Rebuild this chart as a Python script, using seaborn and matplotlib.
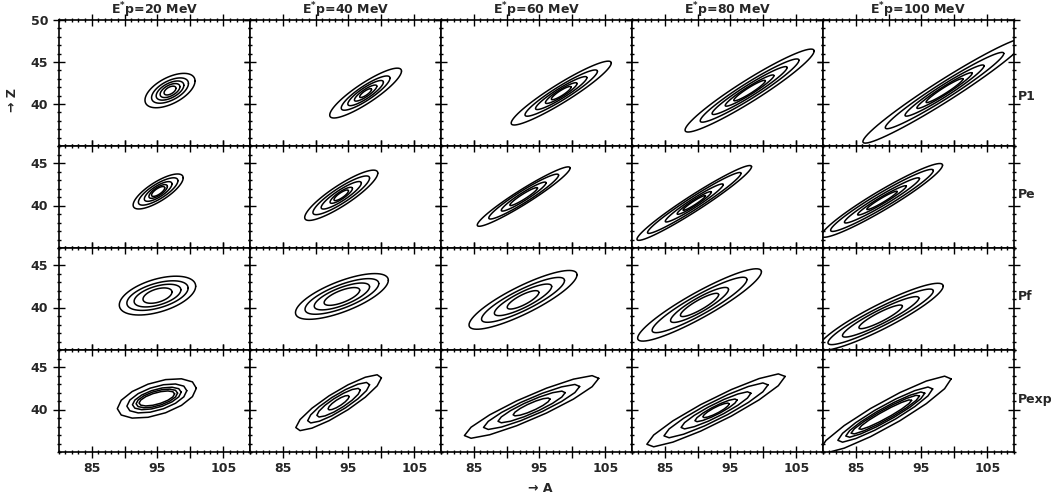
import numpy as np
import pandas as pd
import matplotlib
matplotlib.use("Agg")
import matplotlib.pyplot as plt
from matplotlib.ticker import MultipleLocator
import seaborn as sns

# columns: excitation energy, rows: model
energies = [20, 40, 60, 80, 100]
models = ["P1", "Pe", "Pf", "Pexp"]

# centre of each contour set (A, Z) and slope dZ/dA of the ridge
center_A = [[96.9, 97.6, 98.3, 97.9, 98.5],
            [95.1, 93.9, 92.6, 89.5, 89.0],
            [95.0, 94.0, 92.5, 90.3, 88.8],
            [94.9, 93.5, 93.8, 92.8, 89.5]]
center_Z = [[41.6, 41.3, 41.3, 41.6, 41.6],
            [41.65, 41.2, 41.05, 40.3, 40.6],
            [41.4, 41.3, 40.9, 40.3, 38.9],
            [41.3, 40.8, 40.3, 39.9, 39.4]]
slope = [[0.30, 0.48, 0.47, 0.48, 0.49],
         [0.42, 0.47, 0.475, 0.49, 0.45],
         [0.19, 0.27, 0.36, 0.415, 0.38],
         [0.20, 0.45, 0.33, 0.38, 0.42]]

# half length along A and half thickness along Z of every contour level
half_len = [[[3.8, 2.8, 2.1, 1.5, 0.9], [5.45, 3.7, 2.7, 1.7, 0.9], [7.6, 5.5, 3.9, 2.4, 1.5],
             [9.8, 7.5, 5.7, 3.7, 2.4], [12.4, 9.0, 6.0, 4.2, 2.8]],
            [[3.8, 3.0, 2.1, 1.4, 1.0], [5.55, 4.3, 3.05, 1.7, 1.1], [7.05, 5.3, 3.4, 2.1],
             [8.7, 7.1, 4.4, 2.6, 1.7], [9.2, 7.8, 5.7, 3.7, 2.3]],
            [[5.8, 4.65, 3.55, 2.2], [7.05, 5.6, 4.2, 2.7], [8.2, 6.3, 4.35, 2.4],
             [9.4, 7.2, 4.4, 2.9], [9.5, 8.0, 5.8, 3.3]],
            [[6.0, 4.55, 3.7, 3.15, 2.7], [6.5, 4.7, 3.3, 1.6], [10.2, 7.3, 5.1, 2.8],
             [10.5, 7.9, 5.3, 3.2, 2.0], [10.0, 7.2, 6.0, 5.2, 4.0]]]
half_wid = [[[1.7, 1.25, 0.95, 0.7, 0.45], [1.4, 1.0, 0.75, 0.5, 0.3], [1.3, 0.95, 0.7, 0.5, 0.35],
             [1.5, 1.1, 0.8, 0.55, 0.4], [1.5, 1.1, 0.8, 0.55, 0.4]],
            [[1.3, 1.0, 0.75, 0.55, 0.4], [1.4, 1.05, 0.75, 0.5, 0.35], [1.0, 0.8, 0.55, 0.35],
             [1.1, 0.85, 0.6, 0.4, 0.25], [1.3, 1.0, 0.7, 0.45, 0.3]],
            [[2.0, 1.5, 1.15, 0.8], [1.9, 1.45, 1.1, 0.75], [1.8, 1.35, 1.0, 0.65],
             [1.7, 1.3, 0.95, 0.65], [1.6, 1.2, 0.9, 0.6]],
            [[2.0, 1.45, 1.1, 0.9, 0.7], [1.5, 1.1, 0.8, 0.45], [1.5, 1.1, 0.8, 0.5],
             [1.6, 1.2, 0.85, 0.55, 0.4], [1.7, 1.2, 0.9, 0.7, 0.5]]]

z_top = [50, 47, 47, 47]
x_ticklabels = ["85", "", "95", "", "105"]

sns.set_style("ticks")
plt.rcParams["font.family"] = ["DejaVu Sans"]
plt.rcParams["font.weight"] = "bold"

fig = plt.figure(figsize=(10.51, 5.0), dpi=100)
W_px, H_px = 1051, 500
col_left = [58.7 + 191 * c for c in range(5)]
row_top = [20, 146, 248, 350]
row_h = [126, 102, 102, 102]
# the experimental contours are coarser (binned data)
n_vertices = [73, 73, 73, 15]

for r in range(4):
    theta = np.linspace(0, 2 * np.pi, n_vertices[r])
    for c in range(5):
        ax = fig.add_axes([col_left[c] / W_px, 1 - (row_top[r] + row_h[r]) / H_px,
                           191 / W_px, row_h[r] / H_px])
        for L, Wd in zip(half_len[r][c], half_wid[r][c]):
            df = pd.DataFrame({
                "A": center_A[r][c] + L * np.cos(theta),
                "Z": center_Z[r][c] + slope[r][c] * L * np.cos(theta) + Wd * np.sin(theta),
            })
            sns.lineplot(data=df, x="A", y="Z", sort=False, estimator=None,
                         color="black", lw=1.1, ax=ax)
        ax.set_xlim(80, 109)
        ax.set_ylim(35, z_top[r])
        ax.set_xlabel("")
        ax.set_ylabel("")
        ax.xaxis.set_minor_locator(MultipleLocator(1))
        ax.yaxis.set_minor_locator(MultipleLocator(1))
        ax.set_xticks([85, 90, 95, 100, 105])
        ax.set_yticks([t for t in [40, 45, 50] if t <= z_top[r]])
        ax.tick_params(which="both", direction="inout", top=True, right=True,
                       labelsize=9, width=1.0, color="black")
        ax.tick_params(which="major", length=8)
        ax.tick_params(which="minor", length=3.5)
        for sp in ax.spines.values():
            sp.set_linewidth(1.2)
            sp.set_color("black")
        if r == 3:
            ax.set_xticklabels(x_ticklabels)
        else:
            ax.set_xticklabels([])
        if c != 0:
            ax.set_yticklabels([])
        if r == 0:
            ax.set_title(f"E$^{{*}}$p={energies[c]} MeV", fontsize=9, fontweight="bold", pad=4)

label_y = [96, 195, 297, 400]
for m, y in zip(models, label_y):
    fig.text(1018 / W_px, 1 - y / H_px, m, fontsize=9, fontweight="bold", ha="left", va="center")

fig.text(12 / W_px, 1 - 100 / H_px, "→ Z", rotation=90, fontsize=9, fontweight="bold",
         ha="center", va="center")
fig.text(540 / W_px, 1 - 488 / H_px, "→ A", fontsize=9, fontweight="bold", ha="center", va="center")

fig.savefig("out.png", dpi=100)
